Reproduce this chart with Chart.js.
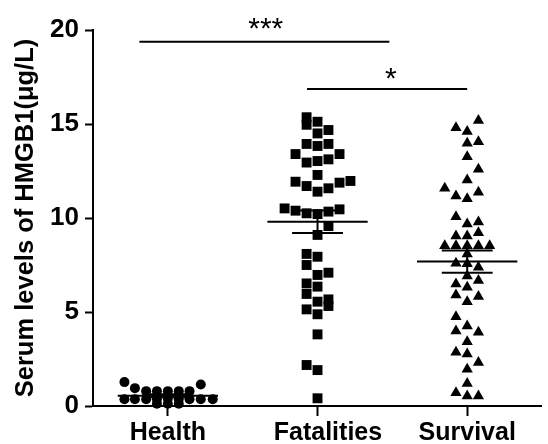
<!DOCTYPE html>
<html>
<head>
<meta charset="utf-8">
<script src="https://cdn.jsdelivr.net/npm/chart.js@4.4.0/dist/chart.umd.min.js"></script>
<style>
  body { margin: 0; background: #fff; }
  canvas { display: block; }
</style>
</head>
<body>
<canvas id="chart" width="548" height="444"></canvas>
<script>
// Groups on the x axis
const categories = ["Health", "Fatalities", "Survival"];

// Health (circles): values and horizontal scatter offset of each dot
const healthValues = [1.27, 0.95, 0.79, 0.79, 0.79, 0.79, 0.79, 1.14,
                      0.36, 0.36, 0.36, 0.36, 0.40, 0.36, 0.36, 0.36, 0.36,
                      0.12, 0.12, 0.12];
const healthJitter = [-0.29, -0.22, -0.145, -0.073, 0, 0.073, 0.145, 0.22,
                      -0.29, -0.22, -0.145, -0.073, 0, 0.073, 0.145, 0.22, 0.3,
                      -0.073, 0, 0.073];

// Fatalities (squares)
const fatalitiesValues = [15.36, 14.96, 15.12, 14.5, 14.68, 13.94, 13.83, 13.94,
                          13.4, 13.4, 12.95, 13.03, 13.12, 12.29,
                          11.93, 11.7, 11.4, 11.58, 11.88, 11.97,
                          10.51, 10.39, 10.25, 10.21, 10.34, 10.46,
                          9.57, 9.1, 8.09, 7.94, 7.5, 6.97, 7.09, 6.52, 6.35,
                          5.96, 5.55, 5.67, 5.32, 5.14, 4.88, 3.81, 2.18, 1.91, 0.41];
const fatalitiesJitter = [-0.073, -0.073, 0, 0, 0.073, -0.073, 0, 0.073,
                          -0.147, 0.147, -0.073, 0, 0.073, 0,
                          -0.147, -0.073, 0, 0.073, 0.147, 0.22,
                          -0.22, -0.147, -0.073, 0, 0.073, 0.147,
                          0.073, 0, -0.073, 0, -0.073, 0, 0.073, -0.073, 0,
                          -0.073, 0, 0.073, 0.073, -0.073, 0, 0, -0.073, 0, 0];

// Survival (triangles)
const survivalValues = [15.18, 14.8, 14.6, 13.97, 14.06, 13.26, 12.59, 12.02,
                        11.58, 11.17, 11.03, 11.37, 10.07, 9.68, 9.79,
                        9.04, 9.04, 9.22, 8.53, 8.53, 8.53, 8.53, 8.53, 8.09,
                        7.59, 7.57, 7.38, 6.91, 6.67, 6.49, 6.31, 5.9, 5.82, 5.55,
                        4.75, 4.26, 3.99, 3.92, 3.42, 2.86, 2.77, 2.32, 1.95, 1.2,
                        0.71, 0.53, 0.53];
const survivalJitter = [0.075, -0.075, 0, 0, 0.075, 0, 0.075, 0,
                        -0.15, -0.075, 0, 0.075, -0.075, 0, 0.075,
                        -0.075, 0, 0.075, -0.15, -0.075, 0, 0.075, 0.15, 0,
                        -0.075, 0, 0.075, 0, 0.075, -0.075, 0, -0.075, 0.075, 0,
                        -0.075, 0, -0.075, 0.075, 0, -0.075, 0, 0.075, 0, 0,
                        -0.075, 0, 0.075];

// Mean and SEM
const groupMeans = [0.54, 9.8, 7.68];
const groupSem = [0.08, 0.6, 0.59];

// Significance brackets
const sigFrom = [0.81, 1.93];
const sigTo = [2.48, 3.0];
const sigLevel = [19.38, 16.86];
const sigText = ["***", "*"];
const sigTextX = [1.654, 2.49];
const sigTextY = [20.5, 17.82];

const yTicks = [0, 5, 10, 15, 20];

const fontFamily = '"Liberation Sans", Arial, sans-serif';

function pointsOf(center, jitter, values) {
    return values.map((v, i) => ({ x: center + jitter[i], y: v }));
}

function segment(x1, y1, x2, y2) {
    return {
        data: [{ x: x1, y: y1 }, { x: x2, y: y2 }],
        showLine: true,
        borderColor: "#000",
        borderWidth: 2,
        pointRadius: 0,
        order: 0,
        clip: false
    };
}

function dots(center, jitter, values, style, radius) {
    return {
        data: pointsOf(center, jitter, values),
        pointStyle: style,
        pointRadius: radius,
        backgroundColor: "#000",
        borderColor: "#000",
        borderWidth: 0,
        order: 1,
        clip: false
    };
}

const datasets = [
    dots(1, healthJitter, healthValues, "circle", 5),
    dots(2, fatalitiesJitter, fatalitiesValues, "rect", 7),
    dots(3, survivalJitter, survivalValues, "triangle", 6.5)
];

// mean line + SEM error bar for every group
groupMeans.forEach((m, i) => {
    const c = i + 1;
    const s = groupSem[i];
    datasets.push(segment(c - 0.335, m, c + 0.335, m));
    datasets.push(segment(c - 0.17, m + s, c + 0.17, m + s));
    datasets.push(segment(c - 0.17, m - s, c + 0.17, m - s));
    datasets.push(segment(c, m - s, c, m + s));
});

sigLevel.forEach((lv, i) => {
    datasets.push(segment(sigFrom[i], lv, sigTo[i], lv));
});

// asterisks above the brackets
const starPlugin = {
    id: "stars",
    afterDatasetsDraw(chart) {
        const { ctx, scales } = chart;
        ctx.save();
        ctx.font = "30px " + fontFamily;
        ctx.fillStyle = "#000";
        ctx.textAlign = "center";
        ctx.textBaseline = "alphabetic";
        sigText.forEach((t, i) => {
            const x = scales.x.getPixelForValue(sigTextX[i]);
            const y = scales.y.getPixelForValue(sigTextY[i]);
            ctx.fillText(t, x, y + 17);
        });
        ctx.restore();
    }
};

new Chart(document.getElementById("chart"), {
    type: "scatter",
    data: { datasets: datasets },
    plugins: [starPlugin],
    options: {
        responsive: false,
        animation: false,
        devicePixelRatio: 1,
        layout: { padding: { top: 30, right: 0, bottom: 0, left: 0 } },
        plugins: { legend: { display: false }, tooltip: { enabled: false } },
        scales: {
            x: {
                type: "linear",
                min: 0.5,
                max: 3.493,
                afterBuildTicks: (axis) => {
                    axis.ticks = [1, 2, 3].map(v => ({ value: v }));
                },
                afterFit: (scale) => { scale.height = 38; },
                ticks: {
                    // the middle label sits a little right of its tick in the original
                    callback: (v) => (v === 2 ? "   " : "") + categories[v - 1],
                    color: "#000",
                    font: { family: fontFamily, size: 25, weight: "bold" },
                    padding: 2,
                    autoSkip: false,
                    maxRotation: 0
                },
                grid: {
                    drawOnChartArea: false,
                    drawTicks: true,
                    tickLength: 10,
                    tickWidth: 2,
                    tickColor: "#000"
                },
                border: { color: "#000", width: 2 }
            },
            y: {
                min: 0,
                max: 20,
                afterBuildTicks: (axis) => {
                    axis.ticks = yTicks.map(v => ({ value: v }));
                },
                afterFit: (scale) => { scale.width = 93; },
                ticks: {
                    color: "#000",
                    font: { family: fontFamily, size: 26, weight: "bold" },
                    padding: 6
                },
                grid: {
                    drawOnChartArea: false,
                    drawTicks: true,
                    tickLength: 8,
                    tickWidth: 2,
                    tickColor: "#000"
                },
                border: { color: "#000", width: 2 },
                title: {
                    display: true,
                    text: "Serum levels of HMGB1(μg/L)",
                    color: "#000",
                    font: { family: fontFamily, size: 25.5, weight: "bold" },
                    padding: { top: 11, bottom: 0 }
                }
            }
        }
    }
});
</script>
</body>
</html>
